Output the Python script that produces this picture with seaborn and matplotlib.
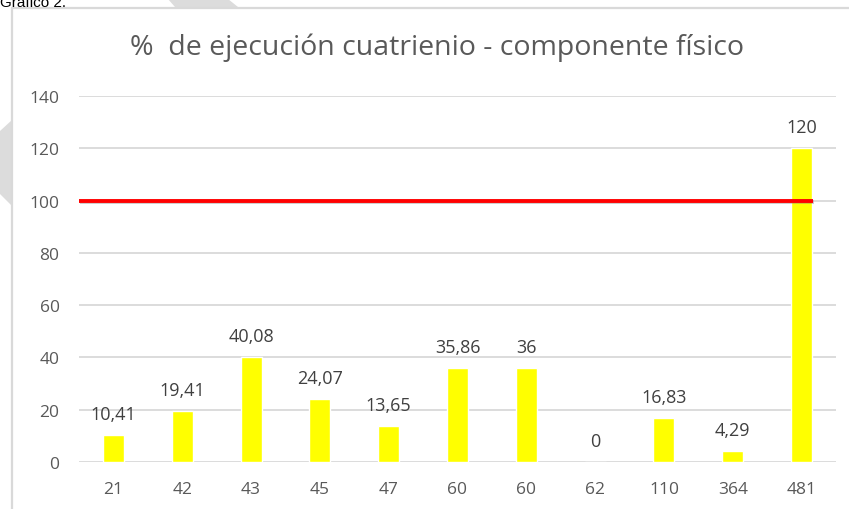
import numpy as np
import pandas as pd
import matplotlib
matplotlib.use("Agg")
import matplotlib.pyplot as plt
import matplotlib.patheffects as pe
from matplotlib.patches import Polygon
from matplotlib.lines import Line2D
import seaborn as sns

# ── Data ─────────────────────────────────────────────────────
categorias = ["21", "42", "43", "45", "47", "60", "60", "62", "110", "364", "481"]
porcentaje = [10.41, 19.41, 40.08, 24.07, 13.65, 35.86, 36, 0, 16.83, 4.29, 120]
meta = 100
yticks = [0, 20, 40, 60, 80, 100, 120, 140]

df = pd.DataFrame({"pos": range(len(categorias)), "valor": porcentaje})

# ── Figure ───────────────────────────────────────────────────
sns.set_theme(style="white")
plt.rcParams["font.family"] = ["Open Sans", "DejaVu Sans"]

W, H = 849, 510
fig = plt.figure(figsize=(W / 100, H / 100), dpi=100)
ax = fig.add_axes([79 / W, 1 - 463 / H, (836 - 79) / W, (463 - 97) / H])

sns.barplot(data=df, x="pos", y="valor", color="#FFFF00", width=0.305,
            saturation=1, ax=ax, zorder=3)

ax.set_ylim(0, 140)
ax.set_xlim(-0.5, len(categorias) - 0.5)
ax.set_yticks(yticks)
ax.set_xticks(range(len(categorias)))
ax.set_xticklabels(categorias)
ax.set_xlabel("")
ax.set_ylabel("")
ax.tick_params(axis="both", length=0, labelsize=12.5, colors="#595959")
ax.tick_params(axis="y", pad=14)
ax.tick_params(axis="x", pad=14)
for y in yticks:
    ax.axhline(y, color="#d9d9d9", lw=1.3, zorder=1)
for s in ax.spines.values():
    s.set_visible(False)

# data labels
for i, v in enumerate(porcentaje):
    ax.annotate(f"{v:g}".replace(".", ","), (i, v), xytext=(0, 15),
                textcoords="offset points", ha="center", va="center",
                fontsize=13, color="#404040")

# target line at 100
ax.hlines(meta, -0.5, 10.16, color="#FF0000", lw=2.8, zorder=4,
          path_effects=[pe.SimpleLineShadow(offset=(0.8, -1.2), shadow_color="#808080", alpha=0.4),
                        pe.Normal()])

# title
fig.text(437 / W, 1 - 48 / H, "%  de ejecución cuatrienio - componente físico",
         ha="center", va="center", fontsize=20.5, color="#595959")

# chart frame and page decorations
fig.add_artist(Line2D([12 / W, 12 / W], [0, 1 - 9 / H], color="#d9d9d9", lw=1.6,
                      transform=fig.transFigure))
fig.add_artist(Line2D([12 / W, 1], [1 - 9 / H, 1 - 9 / H], color="#d9d9d9", lw=1.6,
                      transform=fig.transFigure))
left_shape = [(0, 132), (12, 121), (12, 207), (0, 195)]
top_shape = [(168, 0), (228, 0), (238, 8), (175, 8)]
for shape in (left_shape, top_shape):
    pts = [(x / W, 1 - y / H) for x, y in shape]
    fig.add_artist(Polygon(pts, closed=True, facecolor="#dcdcdc", edgecolor="none",
                           transform=fig.transFigure, zorder=0))
fig.text(0, 1 - 7 / H, "Gráfico 2.", ha="left", va="baseline", fontsize=11,
         color="black", family=["Liberation Sans", "DejaVu Sans"])

fig.savefig("out.png", dpi=100)
